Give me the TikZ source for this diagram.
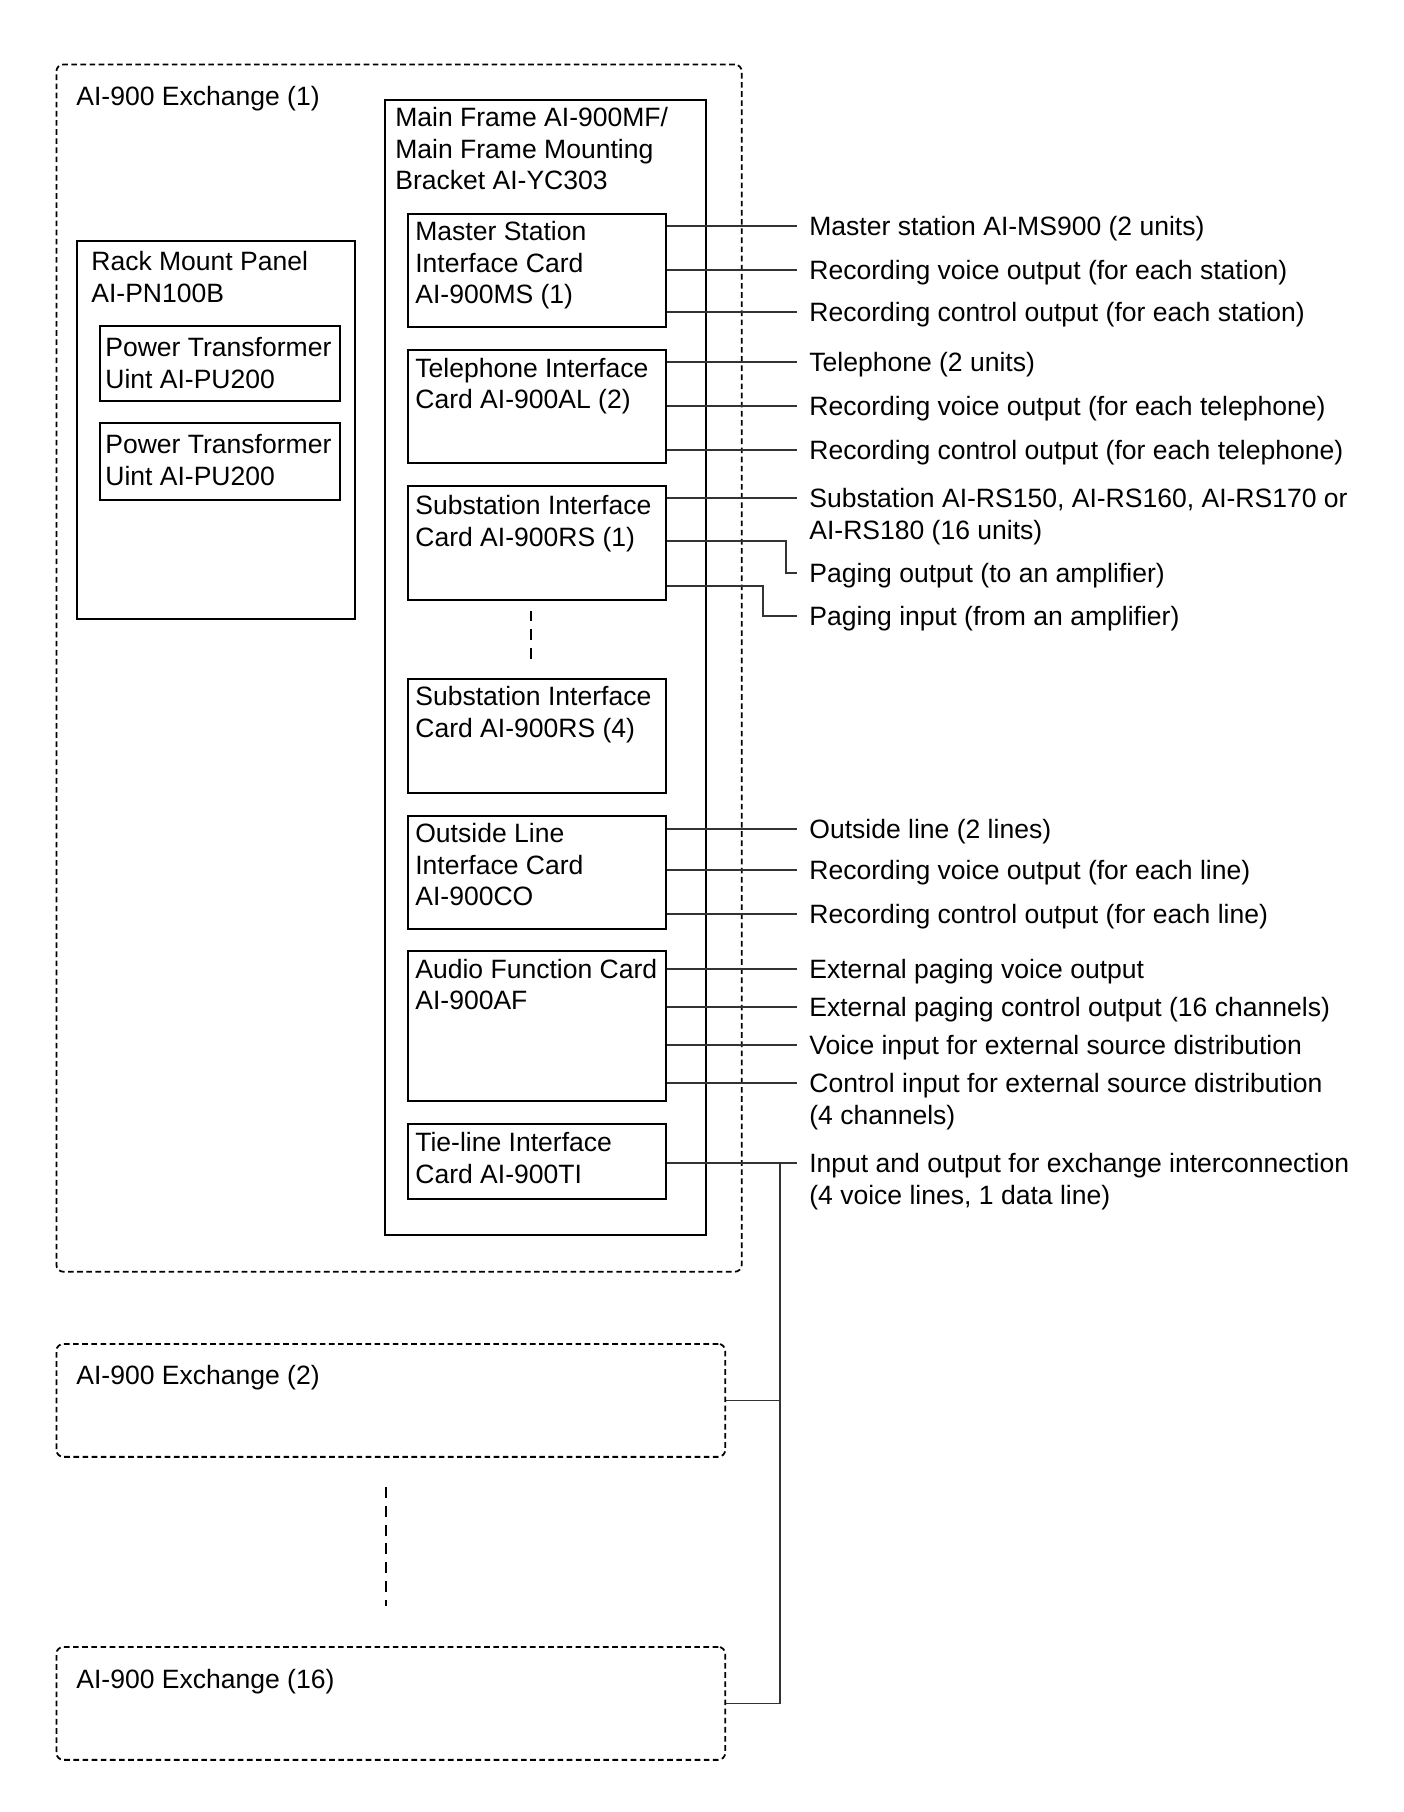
\documentclass[tikz,border=0pt]{standalone}
\usepackage{fontspec}
\setmainfont{Liberation Sans}

\tikzset{
  box/.style={draw, line width=0.9pt, anchor=north west, inner sep=0pt},
  frame/.style={box, line width=1.3pt},
  dashbox/.style={box, line width=1pt, dash pattern=on 3.2pt off 2pt, rounded corners=0.14cm},
  txt/.style={anchor=base west, inner sep=0pt, align=left, font=\fontsize{15.1}{18}\selectfont},
  one/.style={},
  two/.style={yshift=-18pt},
  three/.style={yshift=-36pt},
  wire/.style={line width=0.75pt, black!80},
  gap/.style={line width=1pt, dash pattern=on 6.2pt off 4.5pt}
}

\begin{document}
\begin{tikzpicture}[x=0.02cm, y=-0.02cm]
\useasboundingbox (0,0) rectangle (1403,1812);

% exchange 1
\node[dashbox, minimum width=13.71cm, minimum height=24.15cm] (ex1) at (55.5,63.6) {};
\node[txt] (ex1t) at (76,105.5) {AI-900 Exchange (1)};

% rack mount panel
\node[box, minimum width=5.56cm, minimum height=7.56cm] (rack) at (76,240) {};
\node[txt, two] (rackt) at (91,270.5) {Rack Mount Panel\\AI-PN100B};
\node[box, minimum width=4.8cm, minimum height=1.5cm] (pt1) at (99,325) {};
\node[txt, two] (pt1t) at (105,356.5) {Power Transformer\\Uint AI-PU200};
\node[box, minimum width=4.8cm, minimum height=1.54cm] (pt2) at (99,422) {};
\node[txt, two] (pt2t) at (105,453.5) {Power Transformer\\Uint AI-PU200};

% main frame and cards
\node[frame, minimum width=6.42cm, minimum height=22.7cm] (mf) at (384,99) {};
\node[txt, three] (mft) at (395,126.5) {Main Frame AI-900MF/\\Main Frame Mounting\\Bracket AI-YC303};

\node[box, minimum width=5.16cm, minimum height=2.26cm] (ms) at (407,213) {};
\node[txt, three] (mst) at (415,240.5) {Master Station\\Interface Card\\AI-900MS (1)};
\node[box, minimum width=5.16cm, minimum height=2.26cm] (tel) at (407,349) {};
\node[txt, two] (telt) at (415,377) {Telephone Interface\\Card AI-900AL (2)};
\node[box, minimum width=5.16cm, minimum height=2.28cm] (sub1) at (407,485) {};
\node[txt, two] (sub1t) at (415,514.5) {Substation Interface\\Card AI-900RS (1)};
\node[box, minimum width=5.16cm, minimum height=2.28cm] (sub4) at (407,678) {};
\node[txt, two] (sub4t) at (415,705.5) {Substation Interface\\Card AI-900RS (4)};
\node[box, minimum width=5.16cm, minimum height=2.26cm] (co) at (407,815) {};
\node[txt, three] (cot) at (415,842.5) {Outside Line\\Interface Card\\AI-900CO};
\node[box, minimum width=5.16cm, minimum height=3cm] (af) at (407,950) {};
\node[txt, two] (aft) at (415,978) {Audio Function Card\\AI-900AF};
\node[box, minimum width=5.16cm, minimum height=1.5cm] (ti) at (407,1123) {};
\node[txt, two] (tit) at (415,1151.5) {Tie-line Interface\\Card AI-900TI};

\draw[gap] (sub1.south) ++(-6,10) -- ++(0,56);

% outputs of the cards
\foreach \c/\n/\y/\o/\t in {
  ms/m1/226/one/{Master station AI-MS900 (2 units)},
  ms/m2/270/one/{Recording voice output (for each station)},
  ms/m3/312/one/{Recording control output (for each station)},
  tel/t1/362/one/{Telephone (2 units)},
  tel/t2/406/one/{Recording voice output (for each telephone)},
  tel/t3/450/one/{Recording control output (for each telephone)},
  sub1/s1/498/two/{Substation AI-RS150, AI-RS160, AI-RS170 or\\AI-RS180 (16 units)},
  co/c1/829/one/{Outside line (2 lines)},
  co/c2/870/one/{Recording voice output (for each line)},
  co/c3/914/one/{Recording control output (for each line)},
  af/a1/969/one/{External paging voice output},
  af/a2/1007/one/{External paging control output (16 channels)},
  af/a3/1045/one/{Voice input for external source distribution},
  af/a4/1083/two/{Control input for external source distribution\\(4 channels)},
  ti/x1/1163/two/{Input and output for exchange interconnection\\(4 voice lines, 1 data line)}}
{
  \coordinate (\n) at (797,\y);
  \node[txt, \o] (l\n) at (809,\y+9.5) {\t};
  \draw[wire] (\c.east |- \n) -- (\n);
}

% paging output / input
\coordinate (s2) at (797,573);
\node[txt] (ls2) at (809,582.5) {Paging output (to an amplifier)};
\draw[wire] (sub1.east |- 0,541) -- (786,541) |- (s2);
\coordinate (s3) at (797,616);
\node[txt] (ls3) at (809,625.5) {Paging input (from an amplifier)};
\draw[wire] (sub1.east |- 0,586) -- (763,586) |- (s3);

% other exchanges
\node[dashbox, minimum width=13.38cm, minimum height=2.26cm] (ex2) at (55.5,1343) {};
\node[txt] (ex2t) at (76,1384.5) {AI-900 Exchange (2)};
\node[dashbox, minimum width=13.38cm, minimum height=2.26cm] (ex16) at (55.5,1646) {};
\node[txt] (ex16t) at (76,1688.5) {AI-900 Exchange (16)};
\draw[gap] (386,1487) -- (386,1606);

% interconnection bus
\coordinate (bus) at (780,1163);
\draw[wire] (bus) -- (bus |- ex16.east) -- (ex16.east);
\draw[wire] (ex2.east) -- (ex2.east -| bus);

\end{tikzpicture}
\end{document}
